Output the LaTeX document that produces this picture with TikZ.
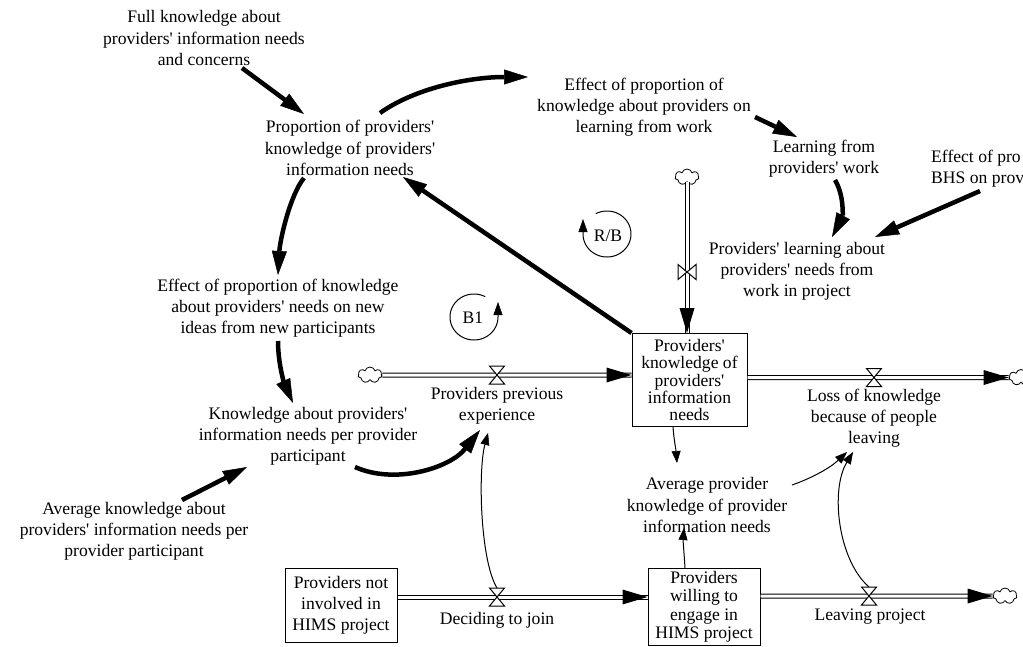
\documentclass[tikz,border=0pt]{standalone}
\usepackage{fontspec}
\setmainfont{Liberation Serif}[Ligatures=TeXOff]
\usetikzlibrary{arrows.meta,shapes.symbols,calc}
\tikzset{
  lbl/.style={align=center,inner sep=0pt,font=\fontsize{17.6}{21.2}\selectfont},
  stockbox/.style={draw,line width=1pt,fill=white,inner sep=0pt,align=center},
  boldlink/.style={line width=4.5pt,-{Triangle[length=24pt,width=15pt,line width=0.5pt]}},
  link/.style={line width=1pt,-{Triangle[length=12pt,width=9pt,line width=0.5pt]}},
  pipe/.style={double=white,double distance=3pt,line width=1pt},
  cloudy/.style={cloud,cloud puffs=7,draw,fill=white,line width=0.8pt,minimum width=24pt,minimum height=16pt,inner sep=0pt},
  loopline/.style={line width=1pt,-{Triangle[length=13pt,width=9pt,line width=0.5pt]}},
  hourglass/.pic={\draw[line width=1pt,fill=white] (-7.5,-9) -- (7.5,-9) -- (-7.5,9) -- (7.5,9) -- cycle;},
  bowtie/.pic={\draw[line width=1pt,fill=white] (-9,-7.5) -- (-9,7.5) -- (9,-7.5) -- (9,7.5) -- cycle;},
}
\begin{document}
\begin{tikzpicture}[x=1pt,y=-1pt]
\useasboundingbox (0,0) rectangle (1023,646);
\clip (0,0) rectangle (1023,646);
\fill[white] (0,0) rectangle (1023,646);

% auxiliary variables
\node[lbl] (full) at (204,38) {Full knowledge about\\providers' information needs\\and concerns};
\node[lbl] (prop) at (350,148) {Proportion of providers'\\knowledge of providers'\\information needs};
\node[lbl] (efflearn) at (644,107) {Effect of proportion of\\knowledge about providers on\\learning from work};
\node[lbl] (learn) at (824,159) {Learning from\\providers' work};
\node[lbl,align=left,anchor=west] (effbhs) at (931,169) {Effect of pro\\BHS on prov};
\node[lbl] (plearn) at (797,271) {Providers' learning about\\providers' needs from\\work in project};
\node[lbl] (effnew) at (278,308) {Effect of proportion of knowledge\\about providers' needs on new\\ideas from new participants};
\node[lbl] (know) at (308,436) {Knowledge about providers'\\information needs per provider\\participant};
\node[lbl] (avgknow) at (134,531) {Average knowledge about\\providers' information needs per\\provider participant};
\node[lbl] (ppe) at (497,406) {Providers previous\\experience};
\node[lbl] (loss) at (874,418) {Loss of knowledge\\because of people\\leaving};
\node[lbl] (avgprov) at (707,505) {Average provider\\knowledge of provider\\information needs};
\node[lbl] (deciding) at (497,620) {Deciding to join};
\node[lbl] (leaving) at (870,617) {Leaving project};

% valves and sources/sinks
\coordinate (v1) at (497,375);
\coordinate (v2) at (687,272);
\coordinate (v3) at (874,377.5);
\coordinate (v4) at (497,597);
\coordinate (v5) at (869,596);
\node[cloudy] (cl) at (370,375) {};
\node[cloudy] (ct) at (687,177) {};
\node[cloudy] (cr) at (1021,377.5) {};
\node[cloudy] (cb) at (1005,596) {};

% stocks
\node[stockbox,minimum width=115pt,minimum height=93pt,font=\fontsize{17.6}{17.2}\selectfont] (stock) at (689.5,380) {Providers'\\knowledge of\\providers'\\information\\needs};
\node[stockbox,minimum width=112pt,minimum height=74pt,font=\fontsize{17.6}{21.2}\selectfont] (notinv) at (341,605) {Providers not\\involved in\\HIMS project};
\node[stockbox,minimum width=112pt,minimum height=77pt,font=\fontsize{17.6}{18.5}\selectfont] (willing) at (704,607) {Providers\\willing to\\engage in\\HIMS project};

% flows
\draw[pipe] (cl.east) -- (stock.west |- cl);
\fill (stock.west |- cl) -- ++(-25,-7.5) -- ++(0,15) -- cycle;
\draw[pipe] (ct.south) -- (ct.south |- stock.north);
\fill (ct.south |- stock.north) -- ++(-7.5,-25) -- ++(15,0) -- cycle;
\draw[pipe] (stock.east |- cr) -- (cr.west);
\fill (cr.west) -- ++(-25,-7.5) -- ++(0,15) -- cycle;
\draw[pipe] (notinv.east |- v4) -- (willing.west |- v4);
\fill (willing.west |- v4) -- ++(-25,-7.5) -- ++(0,15) -- cycle;
\draw[pipe] (willing.east |- cb) -- (cb.west);
\fill (cb.west) -- ++(-25,-7.5) -- ++(0,15) -- cycle;
\pic at (v1) {hourglass};
\pic at (v2) {bowtie};
\pic at (v3) {hourglass};
\pic at (v4) {hourglass};
\pic at (v5) {hourglass};

% strong causal links
\draw[boldlink] ($(full)+(38,30)$) -- ($(prop)+(-46,-34)$);
\draw[boldlink] ($(prop)+(30,-35)$) .. controls (415,88) and (470,77) .. ($(efflearn)+(-116,-30)$);
\draw[boldlink] ($(prop)+(-46,30)$) .. controls (290,195) and (280,240) .. ($(effnew)+(0,-33)$);
\draw[boldlink] ($(effnew)+(0,33)$) .. controls (278,365) and (285,385) .. ($(know)+(-15,-33)$);
\draw[boldlink] ($(know)+(47,31)$) .. controls (395,485) and (450,468) .. ($(ppe)+(-17,24)$);
\draw[boldlink] ($(avgknow)+(48,-31)$) -- ($(know)+(-61,31)$);
\draw[boldlink] (stock.north west) -- ($(prop)+(53,29)$);
\draw[boldlink] ($(efflearn)+(111,10)$) -- ($(learn)+(-27,-22)$);
\draw[boldlink] ($(learn)+(11,21)$) .. controls (845,197) and (842,218) .. ($(plearn)+(35,-34)$);
\draw[boldlink] ($(effbhs.west)+(49,22)$) -- ($(plearn)+(78,-34)$);

% thin causal links
\draw[link] ($(v4)+(0,-9)$) .. controls (480,560) and (478,470) .. ($(ppe)+(-9,27)$);
\draw[link] ($(stock.south)+(-16.5,0)$) .. controls (674,440) and (676,450) .. ($(avgprov)+(-30,-42)$);
\draw[link] ($(willing.north)+(-19,0)$) .. controls (684,552) and (683,540) .. ($(avgprov)+(-23,23)$);
\draw[link] ($(avgprov)+(85,-20)$) .. controls (812,478) and (830,468) .. ($(loss)+(-27,34)$);
\draw[link] ($(v5)+(0,-9)$) .. controls (838,560) and (830,490) .. ($(loss)+(-21,34)$);

% loop markers
\node[lbl] (rb) at (608,236) {R/B};
\draw[loopline,shift={($(rb)+(-1,-2)$)}] plot[domain=0:298,samples=60] ({24*cos(118-\x)},{-23*sin(118-\x)}) -- ++(0,-15);
\node[lbl] (bone) at (473,318) {B1};
\draw[loopline,shift={($(bone)+(1,-1)$)}] plot[domain=0:298,samples=60] ({24*cos(62+\x)},{-23*sin(62+\x)}) -- ++(0,-15);
\end{tikzpicture}
\end{document}
